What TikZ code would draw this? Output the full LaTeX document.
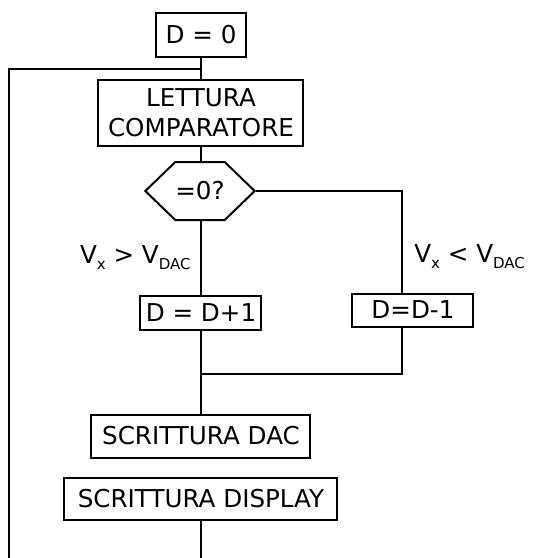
\documentclass[tikz,border=0pt]{standalone}
\usepackage{fontspec}
\setmainfont{DejaVu Sans}
\usepackage{tikz}
\usetikzlibrary{shapes.symbols}
\newcommand{\pedice}[1]{\raisebox{-3pt}{\fontsize{7.5}{7.5}\selectfont #1}}

\begin{document}
\begin{tikzpicture}[x=0.5pt,y=-0.5pt,
  blocco/.style={draw,line width=1pt,font=\fontsize{12.3}{15}\selectfont,inner sep=0pt,align=center},
  linea/.style={line width=1pt},
  etichetta/.style={font=\fontsize{12.3}{15}\selectfont,inner sep=0pt}]
\useasboundingbox (0,0) rectangle (559,558);
\node[blocco,minimum width=45pt,minimum height=22pt] (d0) at (201,35) {D = 0};
\node[blocco,minimum width=102.5pt,minimum height=33pt] (lett) at (201,113) {LETTURA\\COMPARATORE};
\node[blocco,shape=signal,signal to=west and east,signal pointer angle=88,minimum width=54.5pt,minimum height=29pt] (test) at (200,191) {=0?};
\node[blocco,minimum width=60.5pt,minimum height=17pt] (inc) at (201,313) {D = D+1};
\node[blocco,minimum width=60.5pt,minimum height=16.5pt] (dec) at (413,310) {D=D-1};
\node[blocco,minimum width=109.5pt,minimum height=21.5pt] (dac) at (201,436) {SCRITTURA DAC};
\node[blocco,minimum width=136.5pt,minimum height=21pt] (disp) at (201,499) {SCRITTURA DISPLAY};
\node[etichetta,anchor=base east] (mag) at (191,263) {V\pedice{x} > V\pedice{DAC}};
\node[etichetta,anchor=base west] (min) at (414,262) {V\pedice{x} < V\pedice{DAC}};
\coordinate (ritorno) at (201,69);
\coordinate (sx) at (9,558);
\coordinate (unione) at (201,374);
\coordinate (fondo) at (201,558);
% flusso principale
\draw[linea] (d0) -- (lett);
\draw[linea] (sx) |- (ritorno);
\draw[linea] (lett) -- (lett |- test.north);
\draw[linea] (test.south -| inc) -- (inc);
\draw[linea] (inc) -- (dac);
\draw[linea] (disp) -- (fondo);
% ramo destro
\draw[linea] (test.east) -| ([xshift=-5.5pt]dec.north);
\draw[linea] ([xshift=-5.5pt]dec.south) |- (unione);
\end{tikzpicture}
\end{document}
